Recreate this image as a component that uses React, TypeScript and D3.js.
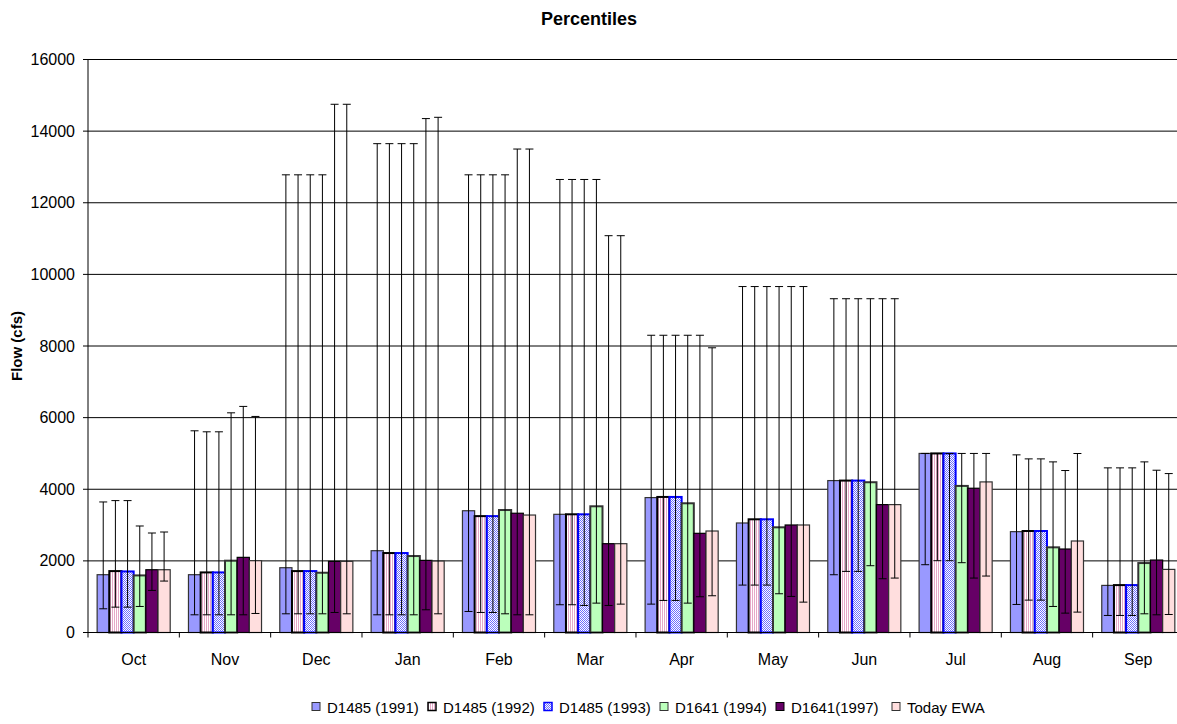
import React from 'react';
import * as d3 from 'd3';

const months = ['Oct', 'Nov', 'Dec', 'Jan', 'Feb', 'Mar', 'Apr', 'May', 'Jun', 'Jul', 'Aug', 'Sep'];
const seriesNames = ['D1485 (1991)', 'D1485 (1992)', 'D1485 (1993)', 'D1641 (1994)', 'D1641(1997)', 'Today EWA'];

const mid1991 = [1614, 1614, 1809, 2284, 3400, 3300, 3767, 3058, 4242, 5000, 2816, 1315];
const mid1992 = [1715, 1678, 1715, 2219, 3250, 3301, 3785, 3161, 4242, 5000, 2834, 1324];
const mid1993 = [1705, 1678, 1715, 2219, 3250, 3300, 3785, 3161, 4242, 5000, 2834, 1324];
const mid1994 = [1594, 2005, 1669, 2135, 3420, 3524, 3608, 2937, 4196, 4093, 2378, 1939];
const mid1997 = [1753, 2098, 1986, 2014, 3330, 2480, 2769, 3002, 3571, 4028, 2331, 2023];
const midEWA = [1753, 2005, 1986, 1995, 3280, 2480, 2834, 3002, 3571, 4205, 2555, 1762];

const hi1991 = [3645, 5632, 12780, 13650, 12780, 12650, 8300, 9660, 9320, 5000, 4960, 4597];
const hi1992 = [3683, 5604, 12780, 13650, 12780, 12650, 8300, 9660, 9320, 5000, 4848, 4597];
const hi1993 = [3683, 5604, 12780, 13650, 12780, 12650, 8300, 9660, 9320, 5000, 4848, 4597];
const hi1994 = [2974, 6134, 12780, 13650, 12780, 12650, 8300, 9660, 9320, 5000, 4764, 4764];
const hi1997 = [2778, 6313, 14750, 14350, 13500, 11080, 8300, 9660, 9320, 5000, 4523, 4531];
const hiEWA = [2806, 6033, 14750, 14386, 13500, 11080, 7950, 9660, 9320, 5000, 4998, 4438];

const lo1991 = [662, 494, 522, 494, 587, 775, 792, 1324, 1613, 1893, 783, 476];
const lo1992 = [708, 494, 522, 494, 559, 775, 895, 1324, 1706, 2005, 904, 476];
const lo1993 = [708, 494, 522, 494, 559, 755, 895, 1324, 1706, 2005, 904, 476];
const lo1994 = [727, 494, 522, 494, 522, 820, 820, 1082, 1865, 1949, 727, 522];
const lo1997 = [1175, 494, 559, 634, 494, 755, 998, 1007, 1501, 1520, 541, 494];
const loEWA = [1436, 531, 522, 522, 494, 792, 1026, 848, 1520, 1576, 569, 503];

const yTicks = [0, 2000, 4000, 6000, 8000, 10000, 12000, 14000, 16000];

const mids = [mid1991, mid1992, mid1993, mid1994, mid1997, midEWA];
const his = [hi1991, hi1992, hi1993, hi1994, hi1997, hiEWA];
const los = [lo1991, lo1992, lo1993, lo1994, lo1997, loEWA];

const fills = ['#9999FF', 'url(#pStripe)', 'url(#pCheck)', '#BBFFBB', '#660066', '#FFDEDE'];
const strokes = ['#333333', '#000000', '#0000FF', '#333333', '#000000', '#333333'];
const strokeWs = [1.2, 2, 2, 2, 1.2, 1.2];

const FONT = '"Liberation Sans", Arial, sans-serif';

export default function App() {
  const W = 1177;
  const H = 724;
  const left = 88;
  const catW = 91.33;
  const x = d3.scaleBand<string>().domain(months).range([left, left + catW * months.length]).padding(0);
  const xi = d3.scaleBand<string>().domain(seriesNames).range([0, x.bandwidth()]).paddingInner(0).paddingOuter(0.75);
  const y = d3.scaleLinear().domain([0, 16000]).range([632.5, 59.5]);
  const plotRight = left + catW * months.length;
  const bw = xi.bandwidth();
  const capHalf = 4;

  const legendX = [312, 428, 544, 660, 776, 892];

  return (
    <svg width={W} height={H} style={{ position: 'absolute', left: 0, top: 0, background: '#fff' }} fontFamily={FONT}>
      <defs>
        <pattern id="pStripe" width="2" height="2" patternUnits="userSpaceOnUse">
          <rect width="2" height="2" fill="#ffffff" />
          <rect width="1" height="2" fill="#E6A8C8" />
        </pattern>
        <pattern id="pCheck" width="2" height="2" patternUnits="userSpaceOnUse">
          <rect width="2" height="2" fill="#ffffff" />
          <rect width="1" height="1" fill="#6F6FFF" />
          <rect x="1" y="1" width="1" height="1" fill="#6F6FFF" />
        </pattern>
      </defs>
      <rect width={W} height={H} fill="#fff" />
      <text x={589} y={25} textAnchor="middle" fontWeight="bold" fontSize={18}>Percentiles</text>

      {yTicks.filter((t) => t > 0).map((t) => (
        <line key={'g' + t} x1={left} x2={plotRight} y1={y(t)} y2={y(t)} stroke="#000" strokeWidth={1} />
      ))}
      {yTicks.map((t) => (
        <g key={'t' + t}>
          <line x1={left - 5} x2={left} y1={y(t)} y2={y(t)} stroke="#000" />
          <text x={75} y={y(t) + 5.5} textAnchor="end" fontSize={16}>{t}</text>
        </g>
      ))}
      <text transform={`translate(22,${(y(0) + y(16000)) / 2}) rotate(-90)`} textAnchor="middle" fontWeight="bold" fontSize={15}>Flow (cfs)</text>

      {months.map((m, mi) => (
        <g key={m}>
          {seriesNames.map((s, si) => {
            const x0 = (x(m) as number) + (xi(s) as number);
            const v = mids[si][mi];
            return (
              <rect key={s} x={x0} y={y(v)} width={bw} height={y(0) - y(v)} fill={fills[si]} stroke={strokes[si]} strokeWidth={strokeWs[si]} />
            );
          })}
          {seriesNames.map((s, si) => {
            const cx = (x(m) as number) + (xi(s) as number) + bw / 2;
            const hy = y(his[si][mi]);
            const ly = y(los[si][mi]);
            return (
              <g key={'e' + s} stroke="#000" strokeWidth={1}>
                <line x1={cx} x2={cx} y1={hy} y2={ly} />
                <line x1={cx - capHalf} x2={cx + capHalf} y1={hy} y2={hy} />
                <line x1={cx - capHalf} x2={cx + capHalf} y1={ly} y2={ly} />
              </g>
            );
          })}
          <text x={(x(m) as number) + x.bandwidth() / 2} y={665} textAnchor="middle" fontSize={16}>{m}</text>
        </g>
      ))}

      <line x1={left} x2={left} y1={y(16000)} y2={y(0)} stroke="#000" />
      <line x1={left} x2={plotRight} y1={y(0)} y2={y(0)} stroke="#000" />
      {months.map((m) => (
        <line key={'xt' + m} x1={x(m) as number} x2={x(m) as number} y1={y(0)} y2={y(0) + 5} stroke="#000" />
      ))}

      {seriesNames.map((s, si) => (
        <g key={'l' + s}>
          <rect x={legendX[si]} y={702.5} width={8} height={8} fill={fills[si]} stroke={strokes[si]} strokeWidth={si === 1 || si === 2 ? 1.5 : 1} />
          <text x={legendX[si] + 15} y={713} fontSize={15}>{s}</text>
        </g>
      ))}
    </svg>
  );
}
